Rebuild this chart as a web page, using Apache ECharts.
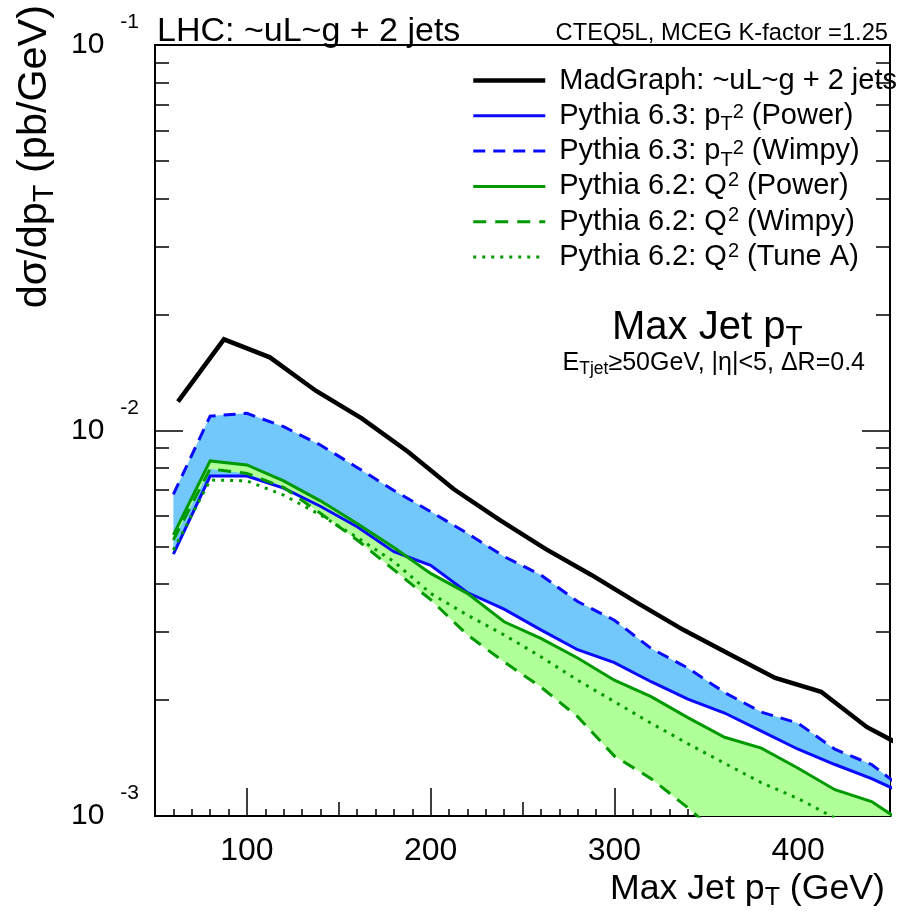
<!DOCTYPE html>
<html>
<head>
<meta charset="utf-8">
<script src="https://cdn.jsdelivr.net/npm/echarts@6/dist/echarts.min.js"></script>
<style>
html,body{margin:0;padding:0;background:#fff;}
#chart{width:907px;height:914px;}
</style>
</head>
<body>
<div id="chart"></div>
<script>
// ---- data ----
const pTBins = [60,80,100,120,140,160,180,200,220,240,260,280,300,320,340,360,380,400,420,440,460];
const madgraphBins = [62.5,87.5,112.5,137.5,162.5,187.5,212.5,237.5,262.5,287.5,312.5,337.5,362.5,387.5,412.5,437.5,462.5];
const madgraph = [0.01188,0.01724,0.01548,0.01268,0.01075,0.00882,0.00705,0.00586,0.00493,0.00422,0.00357,0.00304,0.00263,0.00228,0.00210,0.00170,0.00147];
const py63Power = [0.00478,0.00762,0.00762,0.00709,0.00636,0.00563,0.00485,0.00447,0.00380,0.00344,0.00304,0.00270,0.00250,0.00223,0.00201,0.00185,0.00166,0.00149,0.00136,0.00125,0.00113];
const py63Wimpy = [0.00683,0.01090,0.01108,0.01023,0.00917,0.00802,0.00699,0.00616,0.00541,0.00471,0.00422,0.00360,0.00322,0.00272,0.00242,0.00209,0.00186,0.00174,0.00149,0.00136,0.00115];
const py62Power = [0.00536,0.00834,0.00814,0.00740,0.00657,0.00574,0.00497,0.00426,0.00378,0.00319,0.00289,0.00257,0.00225,0.00204,0.00180,0.00160,0.00150,0.00133,0.00117,0.00109,0.000942];
const py62Wimpy = [0.00520,0.00795,0.00774,0.00712,0.00610,0.00520,0.00435,0.00364,0.00295,0.00251,0.00216,0.00181,0.00143,0.00125,0.00105,0.000866,0.00074,0.00064,0.00055,0.00048,0.00042];
const py62TuneA = [0.00490,0.00744,0.00740,0.00680,0.00604,0.00528,0.00457,0.00378,0.00332,0.00295,0.00259,0.00225,0.00198,0.00174,0.00154,0.00137,0.00122,0.00111,0.000988,0.000893,0.00081];

const xTickLabels = [100,200,300,400];
const xMajorTicks = [100,200,300,400];
const yMajorTicks = [0.001,0.01,0.1];
const yMinorTicks = [0.002,0.003,0.004,0.005,0.006,0.007,0.008,0.009,0.02,0.03,0.04,0.05,0.06,0.07,0.08,0.09];

const seriesNames = [
  'MadGraph: ~uL~g + 2 jets',
  'Pythia 6.3: pT2 (Power)',
  'Pythia 6.3: pT2 (Wimpy)',
  'Pythia 6.2: Q2 (Power)',
  'Pythia 6.2: Q2 (Wimpy)',
  'Pythia 6.2: Q2 (Tune A)'
];
const legendRich = [
  'MadGraph: ~uL~g + 2 jets',
  'Pythia 6.3: p{sub|T}{supa|2} (Power)',
  'Pythia 6.3: p{sub|T}{supa|2} (Wimpy)',
  'Pythia 6.2: Q{supb|2} (Power)',
  'Pythia 6.2: Q{supb|2} (Wimpy)',
  'Pythia 6.2: Q{supb|2} (Tune A)'
];

// ---- styling ----
const FONT = '"Liberation Sans", Arial, Helvetica, sans-serif';
const BLUE = '#0a0aff';
const GREEN = '#009a00';
const BLUE_BAND = '#72c8fb';
const GREEN_BAND = '#b0ff98';

const chart = echarts.init(document.getElementById('chart'), null, {renderer: 'canvas'});

function zip(xs, ys) { return xs.map((x, i) => [x, ys[i]]); }

function bandSeries(lo, hi, color) {
  return {
    type: 'custom',
    xAxisIndex: 0, yAxisIndex: 0,
    clip: true,
    silent: true,
    z: 1,
    data: pTBins.map((x, i) => [x, lo[i], hi[i]]),
    encode: {x: 0, y: [1, 2]},
    renderItem: function (params, api) {
      if (params.dataIndex !== 0) return null;
      const pts = [];
      for (let i = 0; i < pTBins.length; i++) pts.push(api.coord([pTBins[i], hi[i]]));
      for (let i = pTBins.length - 1; i >= 0; i--) pts.push(api.coord([pTBins[i], lo[i]]));
      return {type: 'polygon', shape: {points: pts}, style: {fill: color, stroke: null}};
    }
  };
}

function lineSeries(name, xs, ys, color, width, dash) {
  return {
    name: name, type: 'line', xAxisIndex: 0, yAxisIndex: 0,
    data: zip(xs, ys), symbol: 'none', clip: true, z: 3,
    lineStyle: {color: color, width: width, type: dash || 'solid', cap: 'butt', join: 'miter'},
    itemStyle: {color: color}
  };
}

const tickStyle = {color: '#000', width: 1.5};
const baseX = {type: 'value', min: 50, max: 450, gridIndex: 0, position: 'bottom',
  axisLine: {show: false}, splitLine: {show: false}};
const baseY = {type: 'log', logBase: 10, min: 0.001, max: 0.1, gridIndex: 0,
  axisLine: {show: false}, splitLine: {show: false}, minorTick: {show: false}};

const option = {
  animation: false,
  backgroundColor: '#fff',
  grid: {left: 155, top: 45, width: 735, height: 771, show: true, borderColor: '#000', borderWidth: 2,
    backgroundColor: 'transparent', containLabel: false, outerBoundsMode: 'none'},
  xAxis: [
    Object.assign({}, baseX, {
      interval: 50,
      axisTick: {show: true, inside: true, length: 14, lineStyle: tickStyle},
      minorTick: {show: true, splitNumber: 5, length: 7, lineStyle: tickStyle},
      axisLabel: {show: true, customValues: xTickLabels, fontSize: 32, color: '#000', fontFamily: FONT, margin: 19}
    }),
    Object.assign({}, baseX, {
      interval: 50,
      axisTick: {show: true, inside: true, length: 28, customValues: xMajorTicks, lineStyle: tickStyle},
      axisLabel: {show: false}
    })
  ],
  yAxis: [
    Object.assign({}, baseY, {
      position: 'left',
      axisTick: {show: true, inside: true, length: 28, customValues: yMajorTicks, lineStyle: tickStyle},
      axisLabel: {
        show: true, customValues: yMajorTicks, margin: 16, color: '#000', fontFamily: FONT,
        formatter: function (v) { return '{b|10}{s|' + Math.round(Math.log10(v)) + '}'; },
        rich: {
          b: {fontSize: 30, lineHeight: 66, fontFamily: FONT, color: '#000', verticalAlign: 'middle'},
          s: {fontSize: 21, lineHeight: 21, fontFamily: FONT, color: '#000', verticalAlign: 'top', padding: [0, 0, 0, 16]}
        }
      }
    }),
    Object.assign({}, baseY, {
      position: 'left',
      axisTick: {show: true, inside: true, length: 14, customValues: yMinorTicks, lineStyle: tickStyle},
      axisLabel: {show: false}
    }),
    Object.assign({}, baseY, {
      position: 'right',
      axisTick: {show: true, inside: true, length: 28, customValues: yMajorTicks, lineStyle: tickStyle},
      axisLabel: {show: false}
    }),
    Object.assign({}, baseY, {
      position: 'right',
      axisTick: {show: true, inside: true, length: 14, customValues: yMinorTicks, lineStyle: tickStyle},
      axisLabel: {show: false}
    })
  ],
  legend: {
    show: true, orient: 'vertical', left: 471, top: 60.5, padding: 0,
    itemWidth: 72, itemHeight: 20, itemGap: -4.7,
    selectedMode: false,
    data: seriesNames.map((n, i) => ({
      name: n,
      lineStyle: {width: i === 0 ? 4.5 : 3},
      itemStyle: {opacity: 0}
    })),
    formatter: function (name) { return legendRich[seriesNames.indexOf(name)]; },
    textStyle: {
      fontSize: 29, lineHeight: 40, color: '#000', fontFamily: FONT, padding: [0, 0, 0, 9],
      rich: {
        sub: {fontSize: 20, lineHeight: 20, fontFamily: FONT, color: '#000', verticalAlign: 'top', padding: [19, 0, 0, 0]},
        supa: {fontSize: 20, lineHeight: 20, fontFamily: FONT, color: '#000', verticalAlign: 'top', padding: [7, 0, 0, 0]},
        supb: {fontSize: 20, lineHeight: 20, fontFamily: FONT, color: '#000', verticalAlign: 'top', padding: [4, 0, 0, 1]}
      }
    }
  },
  graphic: [
    {type: 'text', x: 157, y: 31.2, silent: true,
      style: {text: 'LHC: ~uL~g + 2 jets', fontSize: 34, fontFamily: FONT, fill: '#000', align: 'left', verticalAlign: 'middle'}},
    {type: 'text', x: 888, y: 33.5, silent: true,
      style: {text: 'CTEQ5L, MCEG K-factor =1.25', fontSize: 23.7, fontFamily: FONT, fill: '#000', align: 'right', verticalAlign: 'middle'}},
    {type: 'text', x: 612, y: 328, silent: true,
      style: {text: 'Max Jet p{sub|T}', fontSize: 40, lineHeight: 48, fontFamily: FONT, fill: '#000', align: 'left', verticalAlign: 'middle',
        rich: {sub: {fontSize: 28, lineHeight: 28, fontFamily: FONT, fill: '#000', verticalAlign: 'top', padding: [19, 0, 0, 0]}}}},
    {type: 'text', x: 865, y: 363.3, silent: true,
      style: {text: 'E{sub|Tjet}\u226550GeV, |\u03b7|<5, \u0394R=0.4', fontSize: 25, lineHeight: 30, fontFamily: FONT, fill: '#000', align: 'right', verticalAlign: 'middle',
        rich: {sub: {fontSize: 17.5, lineHeight: 17.5, fontFamily: FONT, fill: '#000', verticalAlign: 'top', padding: [12, 0, 0, 0]}}}},
    {type: 'text', x: 885, y: 889.3, silent: true,
      style: {text: 'Max Jet p{sub|T} (GeV)', fontSize: 35.7, lineHeight: 42, fontFamily: FONT, fill: '#000', align: 'right', verticalAlign: 'middle',
        rich: {sub: {fontSize: 25, lineHeight: 25, fontFamily: FONT, fill: '#000', verticalAlign: 'top', padding: [17, 0, 0, 0]}}}},
    {type: 'text', x: 35, y: 5, rotation: Math.PI / 2, silent: true,
      style: {text: 'd\u03c3/dp{sub|T} (pb/GeV)', fontSize: 41.4, lineHeight: 50, fontFamily: FONT, fill: '#000', align: 'right', verticalAlign: 'middle',
        rich: {sub: {fontSize: 29, lineHeight: 29, fontFamily: FONT, fill: '#000', verticalAlign: 'top', padding: [20, 0, 0, 0]}}}}
  ],
  series: [
    bandSeries(py63Power, py63Wimpy, BLUE_BAND),
    bandSeries(py62Wimpy, py62Power, GREEN_BAND),
    lineSeries(seriesNames[0], madgraphBins, madgraph, '#000', 4.5),
    lineSeries(seriesNames[1], pTBins, py63Power, BLUE, 3),
    lineSeries(seriesNames[2], pTBins, py63Wimpy, BLUE, 3, [12, 8]),
    lineSeries(seriesNames[3], pTBins, py62Power, GREEN, 3),
    lineSeries(seriesNames[4], pTBins, py62Wimpy, GREEN, 3, [13, 9]),
    lineSeries(seriesNames[5], pTBins, py62TuneA, GREEN, 3, [3, 6])
  ]
};
chart.setOption(option);
</script>
</body>
</html>
